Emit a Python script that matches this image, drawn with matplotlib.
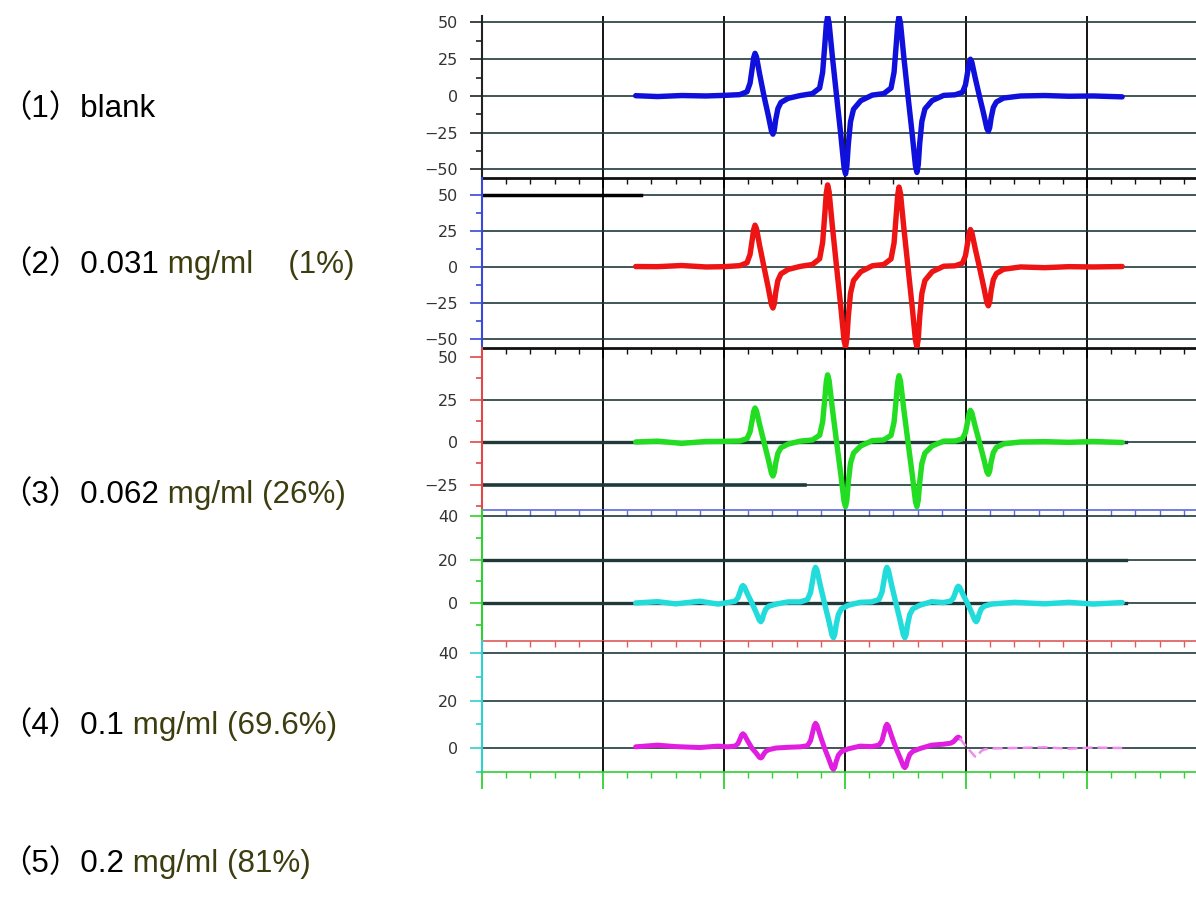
import matplotlib.pyplot as plt
import numpy as np

# field positions (arbitrary units): upper three traces, and the two lower traces
x_top = [1.27, 1.45, 1.65, 1.85, 2.0,
         2.13, 2.19, 2.215, 2.233, 2.245, 2.256, 2.268, 2.295, 2.33,
         2.365, 2.392, 2.404, 2.415, 2.427, 2.445, 2.47, 2.53,
         2.63,
         2.73, 2.79, 2.815, 2.833, 2.845, 2.856, 2.868, 2.895, 2.93,
         2.965, 2.992, 3.004, 3.015, 3.027, 3.045, 3.07, 3.13,
         3.225,
         3.32, 3.38, 3.405, 3.423, 3.435, 3.446, 3.458, 3.485, 3.52,
         3.555, 3.582, 3.594, 3.605, 3.617, 3.635, 3.66, 3.72,
         3.815,
         3.91, 3.97, 3.995, 4.013, 4.025, 4.036, 4.048, 4.075, 4.11,
         4.145, 4.172, 4.184, 4.195, 4.207, 4.225, 4.25, 4.31,
         4.45, 4.65, 4.85, 5.05, 5.29]
x_low = [1.27, 1.45, 1.6, 1.8, 1.95,
         2.03, 2.09, 2.115, 2.133, 2.145, 2.156, 2.168, 2.195, 2.23,
         2.265, 2.292, 2.304, 2.315, 2.327, 2.345, 2.37, 2.43,
         2.53,
         2.63, 2.69, 2.715, 2.733, 2.745, 2.756, 2.768, 2.795, 2.83,
         2.865, 2.892, 2.904, 2.915, 2.927, 2.945, 2.97, 3.03,
         3.125,
         3.22, 3.28, 3.305, 3.323, 3.335, 3.346, 3.358, 3.385, 3.42,
         3.455, 3.482, 3.494, 3.505, 3.517, 3.535, 3.56, 3.62,
         3.715,
         3.81, 3.87, 3.895, 3.913, 3.925, 3.936, 3.948, 3.975, 4.01,
         4.045, 4.072, 4.084, 4.095, 4.107, 4.125, 4.15, 4.21,
         4.4, 4.65, 4.85, 5.05, 5.29]

blank = [0.2, -0.4, 0.3, 0, 0.4,
         0.9, 2.9, 8.7, 18.9, 26.1, 29, 26.7, 14.5, 0,
         -13, -23.9, -26, -23.4, -16.1, -8.6, -4.4, -1.6,
         0.3,
         1.6, 5.4, 16.2, 35.1, 48.6, 54, 49.7, 27, 0,
         -26.5, -48.8, -53, -47.7, -32.9, -17.5, -9, -3.2,
         0.6,
         1.6, 5.4, 16.2, 35.1, 48.6, 54, 49.7, 27, 0,
         -26, -47.8, -52, -46.8, -32.2, -17.2, -8.8, -3.1,
         0.4,
         0.8, 2.5, 7.5, 16.3, 22.5, 25, 23, 12.5, 0,
         -12, -22.1, -24, -21.6, -14.9, -7.9, -4.1, -1.4,
         0, 0.3, -0.2, 0, -0.6]
c_0031 = [0.3, 0.2, 1, 0, 0.2,
          0.9, 2.9, 8.7, 18.9, 26.1, 29, 26.7, 14.5, 0,
          -14.3, -26.2, -28.5, -25.7, -17.7, -9.4, -4.8, -1.7,
          0.4,
          1.7, 5.7, 17.1, 37.1, 51.3, 57, 52.4, 28.5, 0,
          -27.8, -51.1, -55.5, -50, -34.4, -18.3, -9.4, -3.3,
          0.8,
          1.7, 5.6, 16.7, 36.1, 50, 55.5, 51.1, 27.8, 0,
          -27.8, -51.1, -55.5, -50, -34.4, -18.3, -9.4, -3.3,
          0.5,
          0.8, 2.6, 7.8, 16.9, 23.4, 26, 23.9, 13, 0,
          -13.5, -24.8, -27, -24.3, -16.7, -8.9, -4.6, -1.6,
          0, -0.5, 0.2, 0, 0.3]
c_0062 = [0, 0.5, -0.8, 0.3, 0.4,
          0.6, 2, 6, 13, 18, 20, 18.4, 10, 0,
          -10, -18.4, -20, -18, -12.4, -6.6, -3.4, -1.2,
          0.5,
          1.2, 4, 11.9, 25.7, 35.6, 39.5, 36.3, 19.8, 0,
          -19, -35, -38, -34.2, -23.6, -12.5, -6.5, -2.3,
          0.8,
          1.2, 3.9, 11.7, 25.4, 35.1, 39, 35.9, 19.5, 0,
          -19, -35, -38, -34.2, -23.6, -12.5, -6.5, -2.3,
          0.5,
          0.6, 1.9, 5.6, 12.1, 16.7, 18.6, 17.1, 9.3, 0,
          -9.5, -17.5, -19, -17.1, -11.8, -6.3, -3.2, -1.1,
          0, 0.2, -0.2, 0.3, -0.3]
c_01 = [0, 0.6, -0.4, 0.8, -0.5,
        0.2, 0.8, 2.4, 5.2, 7.2, 8, 7.4, 4, 0,
        -4.3, -7.9, -8.6, -7.7, -5.3, -2.8, -1.5, -0.5,
        0.5,
        0.5, 1.6, 4.9, 10.7, 14.8, 16.4, 15.1, 8.2, 0,
        -8, -14.7, -16, -14.4, -9.9, -5.3, -2.7, -1,
        0.3,
        0.5, 1.6, 4.9, 10.7, 14.8, 16.4, 15.1, 8.2, 0,
        -8, -14.7, -16, -14.4, -9.9, -5.3, -2.7, -1,
        0.6,
        0.2, 0.8, 2.3, 5, 6.9, 7.7, 7.1, 3.9, 0,
        -4.3, -7.9, -8.6, -7.7, -5.3, -2.8, -1.5, -0.5,
        0.3, -0.4, 0.3, -0.5, 0.2]
c_02 = [0.5, 1.2, 0.6, 0.2, 0.8,
        0.5, 0.8, 1.8, 3.9, 5.4, 6, 5.5, 3, 0,
        -2.1, -3.9, -4.2, -3.8, -2.6, -1.4, -0.7, 0,
        0.3,
        0.5, 1, 3.1, 6.8, 9.4, 10.4, 9.6, 5.2, 0,
        -4.5, -8.3, -9, -8.1, -5.6, -3, -1.5, -0.3,
        0.8,
        0.6, 1.2, 3, 6.5, 9, 10, 9.2, 5, 0,
        -4.2, -7.6, -8.3, -7.5, -5.1, -2.7, -1.4, -0.2,
        1.2,
        1.6, 2, 2.6, 3.6, 4.3, 4.6, 4.2, 2.3, 0,
        -1.9, -3.5, -3.8, -3.4, -2.4, -1.3, -0.6, -0.2,
        0, 0.3, -0.3, 0.2, 0]

series = [blank, c_0031, c_0062, c_01, c_02]
xs = [x_top, x_top, x_top, x_low, x_low]

y_major = [[50, 25, 0, -25, -50], [50, 25, 0, -25, -50], [50, 25, 0, -25],
           [40, 20, 0], [40, 20, 0]]
y_minor = [[37.5, 12.5, -12.5, -37.5], [37.5, 12.5, -12.5, -37.5],
           [37.5, 12.5, -12.5, -37.5], [30, 10, -10], [30, 10, -10]]

labels = [[("（1）blank", "black")],
          [("（2）0.031", "black"), (" mg/ml    (1%)", "#3d3d0f")],
          [("（3）0.062", "black"), (" mg/ml (26%)", "#3d3d0f")],
          [("（4）0.1", "black"), (" mg/ml (69.6%)", "#3d3d0f")],
          [("（5）0.2", "black"), (" mg/ml (81%)", "#3d3d0f")]]

# layout (pixels) and styles
W, H = 1196, 897
panel_px = [(16, 178), (178, 348), (348, 510), (510, 641), (641, 772)]
ylims = [(-55.8, 54.4), (-56.3, 61.8), (-40, 55.3), (-17.5, 42.8), (-10.1, 45.05)]
trace_col = ['#1010dc', '#ee1414', '#22dd22', '#22dcdc', '#e01ee0']
left_col = ['#222222', '#3848d8', '#e04848', '#30d030', '#30d0d0']
bottom_col = ['#111111', '#111111', '#5a6ae0', '#e05a5a', '#30d030']
label_base = [117, 273, 503, 734, 872]
grid_col = '#203a3a'

fig = plt.figure(figsize=(W / 100, H / 100), dpi=100)
x_major = [0, 1, 2, 3, 4, 5]
x_minor = np.arange(0, 5.9, 0.2)

for i in range(5):
    top, bot = panel_px[i]
    ax = fig.add_axes([482 / W, 1 - bot / H, 1 - 482 / W, (bot - top) / H])
    ax.set_facecolor('none')
    ax.set_xlim(0, 5.9)
    ax.set_ylim(*ylims[i])
    ax.set_xticks(x_major)
    ax.set_xticks(x_minor, minor=True)
    ax.set_xticklabels([])
    ax.set_yticks(y_major[i])
    ax.set_yticks(y_minor[i], minor=True)
    ax.tick_params(axis='x', which='major', direction='out', length=12 if i == 4 else 7,
                   width=1.3, color=bottom_col[i])
    ax.tick_params(axis='x', which='minor', direction='out', length=4,
                   width=1.0, color=bottom_col[i])
    ax.tick_params(axis='y', which='major', length=9, width=1.2, color=left_col[i],
                   labelsize=11.5, labelcolor='#333333', pad=8)
    ax.tick_params(axis='y', which='minor', length=4, width=1.2, color=left_col[i])
    for s in ['top', 'right']:
        ax.spines[s].set_visible(False)
    ax.spines['left'].set_color(left_col[i])
    ax.spines['left'].set_linewidth(1.5)
    ax.spines['bottom'].set_color(bottom_col[i])
    ax.spines['bottom'].set_linewidth(2.0 if i < 2 else 1.2)

    for v in x_major[1:]:
        ax.axvline(v, color='black', lw=1.3, zorder=1)
    for v in y_major[i]:
        if i == 2 and v == 50:
            continue
        ax.axhline(v, color=grid_col, lw=1.2, zorder=1)
        if (i == 2 and v == 0) or (i == 3 and v in (20, 0)):
            ax.plot([0, 5.32], [v, v], color=grid_col, lw=2.4, zorder=1)

    if i == 1:
        ax.plot([0, 1.31], [50, 50], color='black', lw=2.5, zorder=2)
    if i == 2:
        ax.plot([0, 2.67], [-25, -25], color=grid_col, lw=2.6, zorder=2)

    x = xs[i]
    y = series[i]
    if i == 4:
        ax.plot(x[:66], y[:66], color=trace_col[i], lw=3.6, zorder=3,
                solid_joinstyle='round', solid_capstyle='round')
        ax.plot(x[65:], y[65:], color='#f08cf0', lw=1.8, zorder=3, ls=(0, (4, 2)))
    else:
        ax.plot(x, y, color=trace_col[i], lw=3.9, zorder=3,
                solid_joinstyle='round', solid_capstyle='round')

fams = ['Liberation Sans', 'Noto Sans CJK SC']
fig.canvas.draw()
renderer = fig.canvas.get_renderer()
for pieces, yb in zip(labels, label_base):
    xpos = 0
    for txt, col in pieces:
        t = fig.text(xpos, 1 - yb / H, txt, color=col, fontsize=22.6, family=fams,
                     va='baseline', ha='left')
        bb = t.get_window_extent(renderer)
        xpos = bb.x1 / W

fig.savefig('out.png', dpi=100)
